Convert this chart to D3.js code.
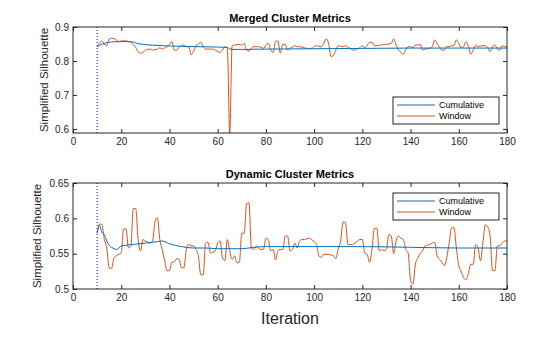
<!DOCTYPE html>
<html>
<head>
<meta charset="utf-8">
<script src="https://cdn.jsdelivr.net/npm/d3@7"></script>
<style>
  body { margin: 0; background: #fff; }
  text { font-family: "Liberation Sans", Arial, Helvetica, sans-serif; }
</style>
</head>
<body>
<svg id="chart" width="560" height="337"></svg>
<script>
// Iterations for the window series (one value per iteration, 10..180)
const iterations = d3.range(10, 181);

// Merged cluster metrics, window silhouette
const merged_window = [
  0.842, 0.852, 0.859, 0.849, 0.845, 0.865, 0.867, 0.866, 0.862, 0.857,
  0.859, 0.859, 0.859, 0.857, 0.855, 0.849, 0.840, 0.827, 0.823, 0.825,
  0.832, 0.834, 0.835, 0.832, 0.833, 0.835, 0.839, 0.835, 0.838, 0.842,
  0.849, 0.857, 0.832, 0.832, 0.840, 0.845, 0.847, 0.842, 0.842, 0.818,
  0.829, 0.845, 0.850, 0.855, 0.842, 0.835, 0.835, 0.835, 0.835, 0.832,
  0.828, 0.825, 0.832, 0.842, 0.839, 0.588, 0.845, 0.847, 0.848, 0.849,
  0.847, 0.852, 0.832, 0.829, 0.838, 0.842, 0.842, 0.842, 0.840, 0.837,
  0.847, 0.852, 0.832, 0.825, 0.857, 0.859, 0.823, 0.849, 0.849, 0.832,
  0.837, 0.841, 0.845, 0.842, 0.842, 0.841, 0.839, 0.837, 0.837, 0.837,
  0.842, 0.845, 0.843, 0.842, 0.852, 0.865, 0.852, 0.813, 0.816, 0.832,
  0.845, 0.843, 0.842, 0.845, 0.840, 0.837, 0.832, 0.832, 0.836, 0.839,
  0.845, 0.837, 0.846, 0.855, 0.855, 0.845, 0.845, 0.846, 0.847, 0.849,
  0.849, 0.850, 0.852, 0.865, 0.847, 0.832, 0.825, 0.820, 0.832, 0.842,
  0.842, 0.839, 0.847, 0.847, 0.849, 0.832, 0.835, 0.836, 0.837, 0.842,
  0.862, 0.852, 0.840, 0.832, 0.832, 0.842, 0.842, 0.845, 0.845, 0.862,
  0.852, 0.839, 0.842, 0.857, 0.842, 0.820, 0.832, 0.847, 0.842, 0.844,
  0.845, 0.845, 0.839, 0.827, 0.842, 0.847, 0.835, 0.832, 0.845, 0.842,
  0.842
];

// Merged cluster metrics, cumulative silhouette
const merged_cum_iter = [10, 11, 13, 16, 20, 24, 27, 32, 37, 45, 52, 60, 64, 65, 66, 70, 80, 100, 120, 140, 160, 180];
const merged_cumulative = [0.842, 0.846, 0.852, 0.856, 0.857, 0.857, 0.851, 0.847, 0.845, 0.843, 0.842, 0.841, 0.840, 0.836, 0.834, 0.834, 0.835, 0.836, 0.837, 0.838, 0.838, 0.838];

// Dynamic cluster metrics, window silhouette
const dynamic_window = [
  0.579, 0.592, 0.591, 0.570, 0.558, 0.530, 0.529, 0.544, 0.547, 0.549,
  0.551, 0.585, 0.585, 0.558, 0.561, 0.614, 0.614, 0.570, 0.554, 0.570,
  0.568, 0.566, 0.565, 0.568, 0.595, 0.601, 0.570, 0.556, 0.540, 0.526,
  0.526, 0.538, 0.538, 0.543, 0.542, 0.530, 0.530, 0.556, 0.563, 0.561,
  0.561, 0.556, 0.547, 0.520, 0.520, 0.565, 0.566, 0.551, 0.552, 0.554,
  0.565, 0.568, 0.544, 0.540, 0.570, 0.554, 0.542, 0.547, 0.537, 0.538,
  0.579, 0.579, 0.621, 0.622, 0.557, 0.556, 0.561, 0.558, 0.556, 0.556,
  0.572, 0.570, 0.554, 0.556, 0.541, 0.554, 0.556, 0.556, 0.575, 0.575,
  0.554, 0.556, 0.565, 0.558, 0.568, 0.570, 0.570, 0.571, 0.572, 0.570,
  0.567, 0.563, 0.547, 0.545, 0.549, 0.549, 0.549, 0.548, 0.547, 0.543,
  0.557, 0.568, 0.595, 0.594, 0.563, 0.563, 0.563, 0.565, 0.568, 0.570,
  0.570, 0.551, 0.549, 0.538, 0.556, 0.586, 0.586, 0.554, 0.556, 0.554,
  0.556, 0.577, 0.575, 0.550, 0.568, 0.575, 0.572, 0.570, 0.556, 0.551,
  0.512, 0.507, 0.535, 0.544, 0.550, 0.554, 0.561, 0.562, 0.563, 0.565,
  0.566, 0.547, 0.542, 0.538, 0.533, 0.544, 0.565, 0.586, 0.587, 0.558,
  0.533, 0.525, 0.516, 0.513, 0.522, 0.535, 0.535, 0.563, 0.558, 0.540,
  0.565, 0.591, 0.588, 0.575, 0.526, 0.526, 0.561, 0.561, 0.565, 0.568,
  0.568
];

// Dynamic cluster metrics, cumulative silhouette
const dynamic_cum_iter = [10, 11, 12, 13, 14, 15, 16, 17, 18, 19, 20, 22, 25, 30, 35, 37, 40, 45, 50, 55, 60, 70, 75, 80, 100, 120, 140, 160, 180];
const dynamic_cumulative = [0.579, 0.590, 0.580, 0.577, 0.568, 0.562, 0.559, 0.557, 0.556, 0.558, 0.561, 0.562, 0.563, 0.565, 0.567, 0.568, 0.564, 0.560, 0.558, 0.558, 0.557, 0.557, 0.559, 0.560, 0.560, 0.560, 0.559, 0.558, 0.558];

const x_ticks = [0, 20, 40, 60, 80, 100, 120, 140, 160, 180];
const merged_y_ticks = [0.6, 0.7, 0.8, 0.9];
const dynamic_y_ticks = [0.5, 0.55, 0.6, 0.65];
const legend_labels = ["Cumulative", "Window"];
const start_iteration = 10;

// Colors (MATLAB defaults)
const color_cumulative = "#0072BD";
const color_window = "#D95319";
const axis_color = "#262626";

const svg = d3.select("#chart");
svg.append("rect").attr("width", 560).attr("height", 337).attr("fill", "#fff");

const x = d3.scaleLinear().domain([0, 180]).range([73, 507]);

function drawPanel(cfg) {
    const y = d3.scaleLinear().domain(cfg.y_domain).range([cfg.bottom, cfg.top]);
    const g = svg.append("g");

    const clip_id = "clip-" + cfg.id;
    svg.append("clipPath").attr("id", clip_id)
        .append("rect")
        .attr("x", x.range()[0]).attr("y", cfg.top)
        .attr("width", x.range()[1] - x.range()[0])
        .attr("height", cfg.bottom - cfg.top);

    // axes with inward ticks on all four sides
    const fmt = d => String(+d.toFixed(2));
    const styleAxis = (sel) => {
        sel.select(".domain").remove();
        sel.selectAll("line").attr("stroke", axis_color);
        sel.selectAll("text").attr("fill", axis_color).attr("font-size", "10px").attr("font-family", null);
    };
    g.append("g").attr("transform", `translate(0,${cfg.bottom})`)
        .call(d3.axisBottom(x).tickValues(x_ticks).tickSize(-4).tickPadding(5).tickFormat(fmt))
        .call(styleAxis);
    g.append("g").attr("transform", `translate(0,${cfg.top})`)
        .call(d3.axisTop(x).tickValues(x_ticks).tickSize(-4).tickFormat(""))
        .call(styleAxis);
    g.append("g").attr("transform", `translate(${x.range()[0]},0)`)
        .call(d3.axisLeft(y).tickValues(cfg.y_ticks).tickSize(-4).tickPadding(4).tickFormat(fmt))
        .call(styleAxis);
    g.append("g").attr("transform", `translate(${x.range()[1]},0)`)
        .call(d3.axisRight(y).tickValues(cfg.y_ticks).tickSize(-4).tickFormat(""))
        .call(styleAxis);

    // plot area
    const plot = g.append("g").attr("clip-path", `url(#${clip_id})`);

    plot.append("line")
        .attr("x1", x(start_iteration)).attr("x2", x(start_iteration))
        .attr("y1", cfg.top).attr("y2", cfg.bottom)
        .attr("stroke", "#0000FF").attr("stroke-width", 1)
        .attr("stroke-dasharray", "1,2");

    const line = d3.line()
        .x(d => x(d[0]))
        .y(d => y(d[1]))
        .curve(d3.curveMonotoneX);

    plot.append("path")
        .datum(iterations.map((it, i) => [it, cfg.window[i]]))
        .attr("d", line)
        .attr("fill", "none").attr("stroke", color_window).attr("stroke-width", 1);

    plot.append("path")
        .datum(cfg.cum_iter.map((it, i) => [it, cfg.cumulative[i]]))
        .attr("d", line)
        .attr("fill", "none").attr("stroke", color_cumulative).attr("stroke-width", 1);

    // box
    g.append("rect")
        .attr("x", x.range()[0]).attr("y", cfg.top)
        .attr("width", x.range()[1] - x.range()[0])
        .attr("height", cfg.bottom - cfg.top)
        .attr("fill", "none").attr("stroke", axis_color).attr("stroke-width", 1);

    // title
    g.append("text")
        .attr("x", (x.range()[0] + x.range()[1]) / 2)
        .attr("y", cfg.top - 5)
        .attr("text-anchor", "middle")
        .attr("font-size", "11px").attr("font-weight", "bold")
        .attr("fill", "#000")
        .text(cfg.title);

    // y label
    g.append("text")
        .attr("transform", `translate(${cfg.ylabel_x},${(cfg.top + cfg.bottom) / 2}) rotate(-90)`)
        .attr("text-anchor", "middle")
        .attr("font-size", "11.5px")
        .attr("fill", axis_color)
        .text("Simplified Silhouette");

    // legend
    const lg = g.append("g").attr("transform", `translate(393,${cfg.legend_y})`);
    lg.append("rect").attr("width", 106).attr("height", 27)
        .attr("fill", "#fff").attr("stroke", axis_color).attr("stroke-width", 1);
    [color_cumulative, color_window].forEach((c, i) => {
        const ly = 8 + i * 11;
        lg.append("line").attr("x1", 4).attr("x2", 42).attr("y1", ly).attr("y2", ly)
            .attr("stroke", c).attr("stroke-width", 1);
        lg.append("text").attr("x", 46).attr("y", ly).attr("dy", "0.35em")
            .attr("font-size", "9px").attr("fill", "#000")
            .text(legend_labels[i]);
    });
}

drawPanel({
    id: "merged", title: "Merged Cluster Metrics",
    top: 27, bottom: 133, y_domain: [0.588, 0.9], y_ticks: merged_y_ticks,
    window: merged_window, cum_iter: merged_cum_iter, cumulative: merged_cumulative,
    legend_y: 97, ylabel_x: 48
});

drawPanel({
    id: "dynamic", title: "Dynamic Cluster Metrics",
    top: 183, bottom: 289, y_domain: [0.5, 0.65], y_ticks: dynamic_y_ticks,
    window: dynamic_window, cum_iter: dynamic_cum_iter, cumulative: dynamic_cumulative,
    legend_y: 193, ylabel_x: 41
});

svg.append("text")
    .attr("x", 290).attr("y", 324)
    .attr("text-anchor", "middle")
    .attr("font-size", "16px").attr("fill", axis_color)
    .text("Iteration");
</script>
</body>
</html>
